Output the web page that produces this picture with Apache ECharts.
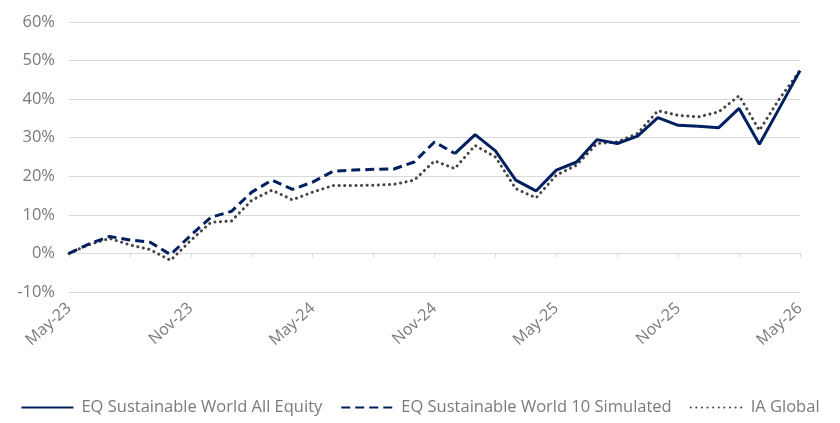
<!DOCTYPE html>
<html>
<head>
<meta charset="utf-8">
<script src="https://cdn.jsdelivr.net/npm/echarts@6/dist/echarts.min.js"></script>
<style>
html,body{margin:0;padding:0;background:#fff;}
#chart{width:840px;height:423px;}
</style>
</head>
<body>
<div id="chart"></div>
<script>
const months = ["May-23","Jun-23","Jul-23","Aug-23","Sep-23","Oct-23","Nov-23","Dec-23","Jan-24","Feb-24","Mar-24","Apr-24",
  "May-24","Jun-24","Jul-24","Aug-24","Sep-24","Oct-24","Nov-24","Dec-24","Jan-25","Feb-25","Mar-25","Apr-25",
  "May-25","Jun-25","Jul-25","Aug-25","Sep-25","Oct-25","Nov-25","Dec-25","Jan-26","Feb-26","Mar-26","Apr-26","May-26"];

const seriesNames = ["EQ Sustainable World All Equity","EQ Sustainable World 10 Simulated","IA Global"];

const allEquity = [null,null,null,null,null,null,null,null,null,null,null,null,
  null,null,null,null,null,null,null,25.9,30.8,26.6,19.0,16.2,
  21.6,23.7,29.5,28.5,30.4,35.2,33.2,33.0,32.6,37.6,28.3,37.8,47.4];

const simulated = [0,2.5,4.4,3.5,2.9,-0.3,4.7,9.4,10.9,15.9,19.0,16.6,
  18.5,21.3,21.6,21.8,21.9,23.7,28.9,25.9,null,null,null,null,
  null,null,null,null,null,null,null,null,null,null,null,null,null];

const iaGlobal = [0,2.3,3.9,2.2,1.0,-1.8,3.4,8.1,8.4,13.8,16.4,13.9,
  15.9,17.6,17.6,17.7,17.9,19.0,24.0,22.0,28.0,25.0,16.8,14.4,
  20.3,22.9,28.5,28.9,31.1,37.0,35.8,35.4,36.7,40.9,31.9,40.2,47.4];

const yTicks = {min:-10, max:60, step:10};

const FONT = '"Open Sans", "Noto Sans", sans-serif';
const GRAY = '#7a7a7a';
const GRID = '#d9d9d9';
const NAVY = '#002060';

const chart = echarts.init(document.getElementById('chart'), null, {renderer:'canvas'});
chart.setOption({
  animation:false,
  grid:{left:69, right:40, top:22, bottom:131, containLabel:false},
  legend:{
    data:seriesNames,
    bottom:2, left:'center',
    itemWidth:52, itemHeight:14, itemGap:18,
    itemStyle:{opacity:0},
    textStyle:{fontFamily:FONT, fontSize:16.5, color:GRAY, padding:[0,0,0,3]}
  },
  xAxis:[
    { // axis line + ticks at zero
      type:'category', data:months, boundaryGap:false, position:'bottom',
      axisLine:{show:true, onZero:true, lineStyle:{color:GRID, width:1}},
      axisTick:{show:true, interval:2, length:4, lineStyle:{color:GRID}},
      axisLabel:{show:false}, splitLine:{show:false}
    },
    { // label axis at bottom
      type:'category', data:months, boundaryGap:false, position:'bottom',
      axisLine:{show:false, onZero:false}, axisTick:{show:false},
      axisLabel:{show:true, interval:5, rotate:42, margin:14, fontFamily:FONT, fontSize:16, color:GRAY},
      splitLine:{show:false}
    }
  ],
  yAxis:[
    {
      type:'value', min:yTicks.min, max:yTicks.max, interval:yTicks.step,
      axisLine:{show:false}, axisTick:{show:false},
      axisLabel:{formatter:'{value}%', fontFamily:FONT, fontSize:16.5, color:GRAY, margin:14},
      splitLine:{show:true, lineStyle:{color:GRID, width:1}}
    }
  ],
  series:[
    {
      name:seriesNames[0], type:'line', data:allEquity, xAxisIndex:0, yAxisIndex:0,
      showSymbol:false, symbol:'none', z:4, connectNulls:false,
      lineStyle:{color:NAVY, width:3, type:'solid'}, itemStyle:{color:NAVY}
    },
    {
      name:seriesNames[1], type:'line', data:simulated, xAxisIndex:0, yAxisIndex:0,
      showSymbol:false, symbol:'none', z:3,
      lineStyle:{color:NAVY, width:3, type:[9,5]}, itemStyle:{color:NAVY}
    },
    {
      name:seriesNames[2], type:'line', data:iaGlobal, xAxisIndex:0, yAxisIndex:0,
      showSymbol:false, symbol:'none', z:2,
      lineStyle:{color:'#444444', width:3, type:[0.1,5.5], cap:'round'}, itemStyle:{color:'#444444'}
    }
  ]
});
</script>
</body>
</html>
